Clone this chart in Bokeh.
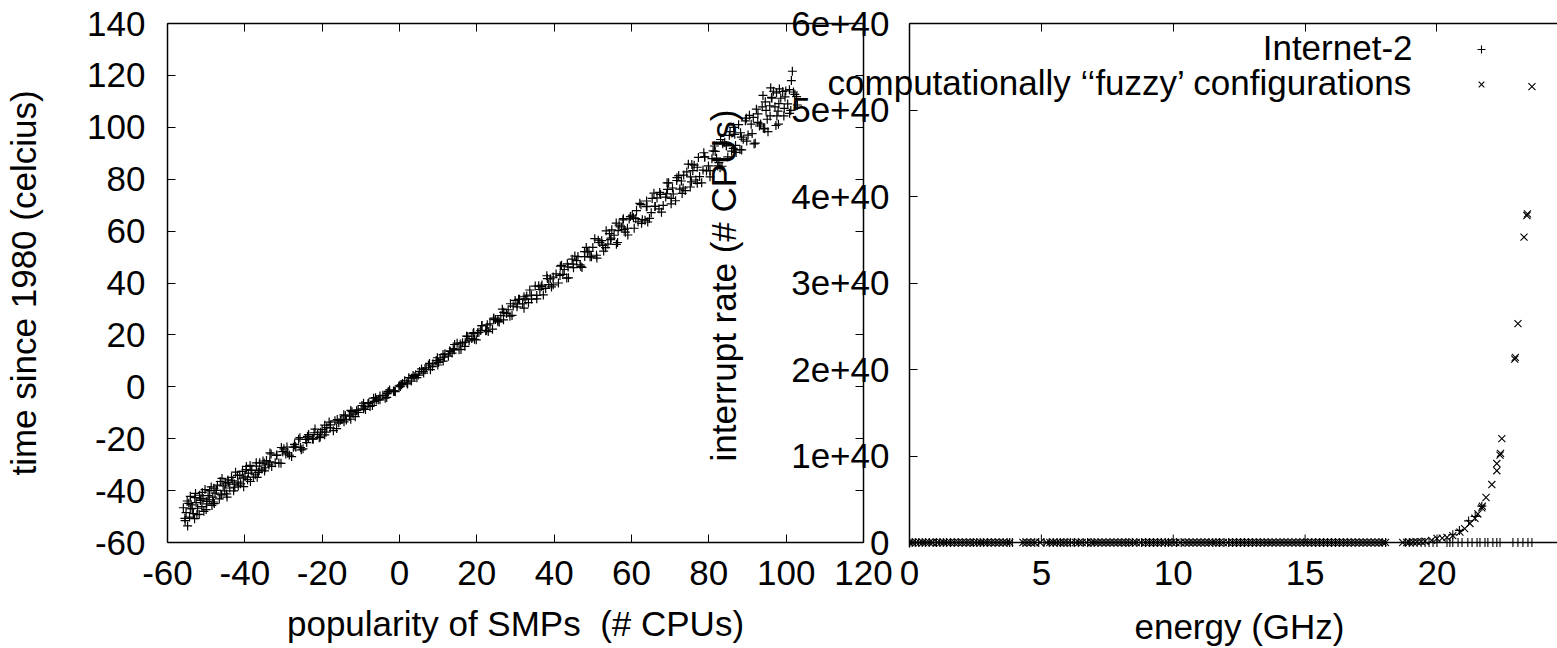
from bokeh.plotting import figure
from bokeh.models import (Range1d, LinearAxis, FixedTicker, Legend,
                          LegendItem, Label, Span)
from bokeh.core.properties import value
from bokeh.embed import file_html
from bokeh.resources import INLINE

FONT = "Liberation Sans"
FS = "35px"

# ---------------- left panel data ----------------
smp_x = [-55.9, -55.45, -54.1, -53.6, -52.95, -51.8, -51.5, -50.3, -49.85, -48.5,
         -48.0, -47.35, -46.2, -45.9, -44.7, -44.25, -42.9, -42.4, -41.75, -40.6,
         -40.3, -39.1, -38.65, -37.3, -36.8, -36.15, -35.0, -34.7, -33.5, -33.05,
         -31.7, -31.2, -30.55, -29.4, -29.1, -27.9, -27.45, -26.1, -25.6, -24.95,
         -23.8, -23.5, -22.3, -21.85, -20.5, -20.0, -19.35, -18.2, -17.9, -16.7,
         -16.25, -14.9, -14.4, -13.75, -12.6, -12.3, -11.1, -10.65, -9.3, -8.8,
         -8.15, -7.0, -6.7, -5.5, -5.05, -3.7, -3.2, -2.55, -1.4, -1.1,
         0.1, 0.55, 1.9, 2.4, 3.05, 4.2, 4.5, 5.7, 6.15, 7.5,
         8.0, 8.65, 9.8, 10.1, 11.3, 11.75, 13.1, 13.6, 14.25, 15.4,
         15.7, 16.9, 17.35, 18.7, 19.2, 19.85, 21.0, 21.3, 22.5, 22.95,
         24.3, 24.8, 25.45, 26.6, 26.9, 28.1, 28.55, 29.9, 30.4, 31.05,
         32.2, 32.5, 33.7, 34.15, 35.5, 36.0, 36.65, 37.8, 38.1, 39.3,
         39.75, 41.1, 41.6, 42.25, 43.4, 43.7, 44.9, 45.35, 46.7, 47.2,
         47.85, 49.0, 49.3, 50.5, 50.95, 52.3, 52.8, 53.45, 54.6, 54.9,
         56.1, 56.55, 57.9, 58.4, 59.05, 60.2, 60.5, 61.7, 62.15, 63.5,
         64.0, 64.65, 65.8, 66.1, 67.3, 67.75, 69.1, 69.6, 70.25, 71.4,
         71.7, 72.9, 73.35, 74.7, 75.2, 75.85, 77.0, 77.3, 78.5, 78.95,
         80.3, 80.8, 81.45, 82.6, 82.9, 84.1, 84.55, 85.9, 86.4, 87.05,
         88.2, 88.5, 89.7, 90.15, 91.5, 92.0, 92.65, 93.8, 94.1, 95.3,
         95.75, 97.1, 97.6, 98.25, 99.4, 99.7, 100.9, 101.35, 102.7, 101.6,
         97.5, 96.3, -54.8, -53.0, -50.6,
         -55.5, -54.5, -54.1, -52.75, -52.4, -51.35, -51.0, -49.85, -49.1, -48.1,
         -47.7, -46.35, -46.0, -44.95, -44.6, -43.45, -42.7, -41.7, -41.3, -39.95,
         -39.6, -38.55, -38.2, -37.05, -36.3, -35.3, -34.9, -33.55, -33.2, -32.15,
         -31.8, -30.65, -29.9, -28.9, -28.5, -27.15, -26.8, -25.75, -25.4, -24.25,
         -23.5, -22.5, -22.1, -20.75, -20.4, -19.35, -19.0, -17.85, -17.1, -16.1,
         -15.7, -14.35, -14.0, -12.95, -12.6, -11.45, -10.7, -9.7, -9.3, -7.95,
         -7.6, -6.55, -6.2, -5.05, -4.3, -3.3, -2.9, -1.55, -1.2, -0.15,
         0.2, 1.35, 2.1, 3.1, 3.5, 4.85, 5.2, 6.25, 6.6, 7.75,
         8.5, 9.5, 9.9, 11.25, 11.6, 12.65, 13.0, 14.15, 14.9, 15.9,
         16.3, 17.65, 18.0, 19.05, 19.4, 20.55, 21.3, 22.3, 22.7, 24.05,
         24.4, 25.45, 25.8, 26.95, 27.7, 28.7, 29.1, 30.45, 30.8, 31.85,
         32.2, 33.35, 34.1, 35.1, 35.5, 36.85, 37.2, 38.25, 38.6, 39.75,
         40.5, 41.5, 41.9, 43.25, 43.6, 44.65, 45.0, 46.15, 46.9, 47.9,
         48.3, 49.65, 50.0, 51.05, 51.4, 52.55, 53.3, 54.3, 54.7, 56.05,
         56.4, 57.45, 57.8, 58.95, 59.7, 60.7, 61.1, 62.45, 62.8, 63.85,
         64.2, 65.35, 66.1, 67.1, 67.5, 68.85, 69.2, 70.25, 70.6, 71.75,
         72.5, 73.5, 73.9, 75.25, 75.6, 76.65, 77.0, 78.15, 78.9, 79.9,
         80.3, 81.65, 82.0, 83.05, 83.4, 84.55, 85.3, 86.3, 86.7, 88.05,
         88.4, 89.45, 89.8, 90.95, 91.7, 92.7, 93.1, 94.45, 94.8, 95.85,
         96.2, 97.35, 98.1, 99.1, 99.5, 100.85, 101.2, 102.25,
         -55.2, -54.9, -54.3, -53.9, -53.3, -52.6, -52.2, -51.7, -51.1, -50.8,
         -50.0, -49.5, -49.2, -48.7, -48.3, -47.9, -47.1, -46.6, -45.6, -45.2,
         -44.4, -43.9, -43.1, -42.6, -41.9, -41.1, -40.4, -39.7, -39.3, -38.4,
         -37.8, -37.0, -36.5, -35.6, -34.4, -33.8,
         55.5, 56.8, 58.1, 59.4, 61.3, 62.6, 63.9, 65.1, 66.6, 68.2,
         69.3, 70.8, 72.2, 73.1, 74.3, 75.5, 76.2, 77.6, 78.7, 79.4,
         81.1, 82.3, 83.6, 84.9, 85.5, 86.9, 87.7, 88.9, 90.5, 91.2,
         92.3, 93.4, 94.6, 95.1, 96.7, 97.9, 98.6, 99.9, 100.4, 101.9,
         102.9, 96.0, 94.0, 98.0,
         -30.2, -27.0, -24.0, -21.2, -18.8, -15.3, -12.0, -9.0, -6.0, -3.0,
         0.8, 3.8, 6.9, 10.5, 13.9, 17.0, 20.2, 23.4, 26.2, 29.4,
         32.9, 36.3, 39.0, 42.6, 45.8, 48.6, 51.8, 53.9]
smp_y = [-46.6, -51.6, -42.2, -47.0, -42.7, -49.2, -43.8, -39.6, -45.1, -45.7,
         -39.1, -39.9, -41.4, -35.3, -41.3, -36.8, -40.1, -32.9, -36.7, -32.6,
         -38.5, -33.3, -30.3, -33.9, -34.9, -29.3, -29.4, -31.2, -25.5, -30.7,
         -26.3, -29.4, -23.4, -25.9, -23.2, -26.9, -23.3, -20.2, -23.4, -23.9,
         -19.1, -19.7, -20.2, -16.3, -19.3, -16.5, -18.5, -13.6, -15.8, -13.1,
         -16.1, -12.6, -10.8, -12.8, -12.5, -9.6, -9.2, -9.9, -6.3, -8.7,
         -6.5, -7.2, -4.4, -5.0, -3.5, -4.4, -2.6, -1.2, -1.8, -1.9,
         0.6, 0.8, 1.5, 3.5, 2.2, 4.6, 3.5, 6.9, 5.9, 8.4,
         6.6, 8.9, 11.2, 9.4, 9.9, 12.7, 13.6, 13.0, 16.3, 14.3,
         16.5, 15.6, 19.5, 18.6, 20.9, 18.1, 21.7, 23.6, 21.8, 21.3,
         26.1, 25.9, 25.1, 29.9, 25.8, 29.7, 27.2, 33.3, 30.8, 33.7,
         30.3, 33.9, 37.3, 33.8, 33.9, 38.9, 38.6, 37.9, 42.8, 38.5,
         42.3, 40.0, 46.5, 43.3, 47.4, 42.0, 47.3, 50.4, 47.0, 46.0,
         52.1, 52.2, 50.1, 57.1, 50.7, 56.3, 52.3, 60.1, 56.7, 60.5,
         54.9, 60.2, 64.8, 59.6, 58.5, 66.1, 65.1, 63.6, 70.7, 64.2,
         69.5, 64.9, 74.6, 69.5, 74.9, 67.3, 74.4, 78.6, 72.6, 71.7,
         79.5, 79.3, 76.6, 85.8, 77.0, 83.3, 78.4, 88.4, 83.5, 88.6,
         80.9, 87.9, 92.8, 86.4, 84.4, 94.2, 92.9, 90.8, 100.0, 90.3,
         97.9, 91.3, 103.5, 97.0, 103.8, 93.9, 101.9, 107.9, 99.6, 98.3,
         108.3, 107.9, 104.4, 114.8, 104.4, 111.7, 105.4, 118.0, 111.8, 121.6,
         113.3, 111.2, -53.6, -50.8, -48.0,
         -50.7, -44.9, -47.0, -41.1, -49.3, -43.2, -40.7, -44.2, -40.0, -44.4,
         -41.0, -36.5, -41.7, -37.4, -42.5, -34.9, -37.5, -38.2, -34.0, -34.7,
         -30.7, -36.5, -32.1, -29.3, -32.3, -28.6, -32.4, -28.9, -25.9, -29.3,
         -26.4, -29.5, -23.9, -25.5, -26.3, -22.2, -23.3, -19.6, -24.3, -20.3,
         -18.4, -20.1, -17.7, -19.6, -17.5, -14.8, -17.5, -14.7, -16.9, -12.6,
         -13.9, -13.5, -11.2, -11.3, -9.1, -11.5, -8.9, -7.2, -8.5, -6.1,
         -7.6, -5.6, -4.2, -5.0, -3.3, -4.1, -1.8, -1.6, -1.7, 0.3,
         0.1, 2.3, 1.1, 3.3, 4.4, 4.5, 5.9, 5.3, 6.6, 9.0,
         7.8, 10.1, 8.4, 12.4, 11.4, 11.8, 13.9, 14.2, 16.8, 14.4,
         17.0, 19.4, 17.7, 20.5, 18.3, 21.0, 23.6, 21.6, 23.9, 22.2,
         26.5, 25.6, 25.0, 28.7, 28.2, 32.0, 27.5, 31.9, 33.7, 32.0,
         34.7, 32.4, 35.3, 38.8, 35.2, 39.2, 35.4, 41.7, 39.4, 39.3,
         43.5, 42.9, 46.8, 41.9, 46.2, 49.2, 45.9, 50.2, 46.4, 50.2,
         53.7, 50.1, 53.7, 49.6, 56.5, 54.5, 53.6, 59.0, 57.3, 63.1,
         55.6, 61.6, 64.3, 61.1, 65.6, 61.1, 64.8, 70.2, 64.4, 69.4,
         63.5, 72.6, 69.5, 68.6, 74.1, 73.1, 78.6, 70.5, 76.6, 80.6,
         76.2, 81.6, 75.6, 80.9, 85.7, 79.7, 84.6, 78.6, 88.6, 85.1,
         83.3, 90.7, 88.1, 95.3, 85.0, 92.9, 96.9, 91.9, 97.3, 91.4,
         96.2, 102.5, 94.7, 101.2, 93.6, 105.2, 100.5, 99.4, 106.5, 104.4,
         111.5, 100.7, 109.1, 113.8, 107.3, 114.5, 106.5, 112.7,
         -48.5, -44.0, -50.2, -45.5, -48.9, -44.6, -46.8, -41.8, -46.2, -43.0,
         -47.3, -41.9, -43.6, -38.6, -42.5, -45.0, -37.9, -43.2, -38.2, -40.1,
         -35.9, -39.0, -36.2, -38.7, -34.1, -37.4, -35.2, -31.9, -35.8, -32.2,
         -34.8, -30.6, -33.0, -31.7, -28.4, -30.1,
         58.4, 62.3, 60.7, 64.7, 67.9, 63.0, 71.6, 67.1, 72.8, 69.9,
         76.1, 74.3, 81.4, 74.5, 82.8, 79.0, 85.4, 81.0, 90.2, 83.2,
         90.9, 85.1, 93.7, 88.6, 98.3, 93.0, 101.0, 95.4, 104.6, 97.6,
         107.0, 101.3, 109.8, 103.1, 113.9, 106.2, 111.2, 114.0, 109.0, 113.6,
         108.6, 115.2, 112.3, 101.2,
         -25.0, -22.9, -21.5, -18.4, -15.7, -12.9, -10.5, -7.7, -5.1, -2.3,
         1.3, 3.9, 7.3, 10.6, 14.7, 17.2, 20.8, 24.3, 27.4, 31.1,
         35.0, 37.5, 41.6, 45.2, 48.6, 52.0, 55.6, 55.0]

x1_ticks = [-60, -40, -20, 0, 20, 40, 60, 80, 100, 120]
x1_tick_labels = ["-60", "-40", "-20", "0", "20", "40", "60", "80", "100", "120"]
y1_ticks = [-60, -40, -20, 0, 20, 40, 60, 80, 100, 120, 140]
y1_tick_labels = ["-60", "-40", "-20", "0", "20", "40", "60", "80", "100", "120", "140"]

# ---------------- right panel data ----------------
inet_x = [0.1, 0.35, 0.6, 0.9, 1.15, 1.4, 1.7, 2.0, 2.3, 2.55, 2.8, 3.1, 3.4, 3.7, 3.9,
          4.3, 4.6, 4.9, 5.3, 5.6, 5.85, 6.1, 6.4, 6.75, 7.0, 7.3, 7.6, 7.9, 8.2, 8.45,
          8.8, 9.1, 9.4, 9.7, 9.95, 10.3, 10.6, 10.9, 11.2, 11.5, 11.75, 12.1, 12.4, 12.7,
          13.0, 13.3, 13.6, 13.9, 14.2, 14.5, 14.8, 15.1, 15.4, 15.7, 16.0, 16.3, 16.6, 16.9, 17.2, 17.5, 17.8, 18.05,
          18.8, 19.1, 19.4, 19.7, 20.0,
          20.38, 20.49, 20.6, 20.8, 20.95, 21.17, 21.33, 21.52, 21.63, 21.82, 21.93, 22.12, 22.27, 22.39, 22.88, 23.07, 23.26, 23.45, 23.6,
          20.6, 20.85, 21.2, 21.45, 21.7,
          0.22, 0.48, 0.75, 1.02, 1.28, 1.55, 1.85, 2.15, 2.42, 2.68, 2.95, 3.25, 3.55, 3.8,
          4.45, 4.75, 5.1, 5.45, 5.72, 5.98, 6.25, 6.58, 6.88, 7.15, 7.45, 7.75, 8.05, 8.32, 8.62,
          8.95, 9.25, 9.55, 9.82, 10.12, 10.45, 10.75, 11.05, 11.35, 11.62, 11.92, 12.25, 12.55, 12.85,
          13.15, 13.45, 13.75, 14.05, 14.35, 14.65, 14.95, 15.25, 15.55, 15.85, 16.15, 16.45, 16.75, 17.05, 17.35, 17.65, 17.92,
          18.95, 19.25, 19.55, 19.85]
inet_y = [0.0, 0.0, 0.0, 0.0, 0.0, 0.0, 0.0, 0.0, 0.0, 0.0, 0.0, 0.0, 0.0, 0.0, 0.0,
          0.0, 0.0, 0.0, 0.0, 0.0, 0.0, 0.0, 0.0, 0.0, 0.0, 0.0, 0.0, 0.0, 0.0, 0.0,
          0.0, 0.0, 0.0, 0.0, 0.0, 0.0, 0.0, 0.0, 0.0, 0.0, 0.0, 0.0, 0.0, 0.0,
          0.0, 0.0, 0.0, 0.0, 0.0, 0.0, 0.0, 0.0, 0.0, 0.0, 0.0, 0.0, 0.0, 0.0, 0.0, 0.0, 0.0, 0.0,
          0.0, 0.0, 0.0, 0.0, 0.0,
          0.0, 0.0, 0.0, 0.0, 0.0, 0.0, 0.0, 0.0, 0.0, 0.0, 0.0, 0.0, 0.0, 0.0, 0.0, 0.0, 0.0, 0.0, 0.0,
          0.09e40, 0.14e40, 0.25e40, 0.30e40, 0.42e40,
          0.0, 0.0, 0.0, 0.0, 0.0, 0.0, 0.0, 0.0, 0.0, 0.0, 0.0, 0.0, 0.0, 0.0,
          0.0, 0.0, 0.0, 0.0, 0.0, 0.0, 0.0, 0.0, 0.0, 0.0, 0.0, 0.0, 0.0, 0.0, 0.0,
          0.0, 0.0, 0.0, 0.0, 0.0, 0.0, 0.0, 0.0, 0.0, 0.0, 0.0, 0.0, 0.0, 0.0,
          0.0, 0.0, 0.0, 0.0, 0.0, 0.0, 0.0, 0.0, 0.0, 0.0, 0.0, 0.0, 0.0, 0.0, 0.0, 0.0, 0.0,
          0.0, 0.0, 0.0, 0.0]

fuzzy_x = [0.0, 0.25, 0.5, 0.75, 1.05, 1.3, 1.55, 1.85, 2.15, 2.45, 2.7, 2.95, 3.25, 3.55, 3.8,
           4.45, 4.75, 5.2, 5.45, 5.7, 6.0, 6.3, 6.55, 6.9, 7.15, 7.45, 7.75, 8.05, 8.35, 8.6,
           8.95, 9.25, 9.55, 9.8, 10.1, 10.45, 10.75, 11.05, 11.35, 11.6, 11.9, 12.25, 12.55, 12.85,
           13.15, 13.45, 13.75, 14.05, 14.35, 14.65, 14.95, 15.25, 15.55, 15.85, 16.15, 16.45, 16.75, 17.05, 17.35, 17.65, 17.95,
           18.7, 18.95, 19.25, 19.55, 19.8,
           20.0, 20.2, 20.38, 20.6, 20.87, 21.05, 21.25, 21.44, 21.55, 21.7, 21.72, 21.86, 22.08,
           22.27, 22.27, 22.39, 22.41, 22.46, 22.95, 22.97, 23.07, 23.3, 23.41, 23.43, 23.6,
           0.12, 0.38, 0.62, 0.88, 1.18, 1.42, 1.7, 2.0, 2.3, 2.58, 2.82, 3.1, 3.4, 3.68,
           4.3, 4.6, 4.95, 5.32, 5.58, 5.85, 6.15, 6.42, 6.72, 7.02, 7.3, 7.6, 7.9, 8.2, 8.48,
           8.78, 9.1, 9.4, 9.68, 9.95, 10.28, 10.6, 10.9, 11.2, 11.48, 11.75, 12.08, 12.4, 12.7,
           13.0, 13.3, 13.6, 13.9, 14.2, 14.5, 14.8, 15.1, 15.4, 15.7, 16.0, 16.3, 16.6, 16.9, 17.2, 17.5, 17.8,
           18.05, 18.85, 19.1, 19.4]
fuzzy_y = [0.0, 0.0, 0.0, 0.0, 0.0, 0.0, 0.0, 0.0, 0.0, 0.0, 0.0, 0.0, 0.0, 0.0, 0.0,
           0.0, 0.0, 0.0, 0.0, 0.0, 0.0, 0.0, 0.0, 0.0, 0.0, 0.0, 0.0, 0.0, 0.0, 0.0,
           0.0, 0.0, 0.0, 0.0, 0.0, 0.0, 0.0, 0.0, 0.0, 0.0, 0.0, 0.0, 0.0, 0.0,
           0.0, 0.0, 0.0, 0.0, 0.0, 0.0, 0.0, 0.0, 0.0, 0.0, 0.0, 0.0, 0.0, 0.0, 0.0, 0.0, 0.0,
           0.0, 0.003e40, 0.008e40, 0.015e40, 0.025e40,
           0.046e40, 0.05e40, 0.06e40, 0.08e40, 0.12e40, 0.16e40, 0.22e40, 0.28e40, 0.33e40, 0.40e40, 0.42e40, 0.52e40, 0.67e40,
           0.83e40, 0.913e40, 1.01e40, 1.03e40, 1.20e40, 2.12e40, 2.14e40, 2.53e40, 3.53e40, 3.78e40, 3.80e40, 5.27e40,
           0.0, 0.0, 0.0, 0.0, 0.0, 0.0, 0.0, 0.0, 0.0, 0.0, 0.0, 0.0, 0.0, 0.0,
           0.0, 0.0, 0.0, 0.0, 0.0, 0.0, 0.0, 0.0, 0.0, 0.0, 0.0, 0.0, 0.0, 0.0, 0.0,
           0.0, 0.0, 0.0, 0.0, 0.0, 0.0, 0.0, 0.0, 0.0, 0.0, 0.0, 0.0, 0.0, 0.0,
           0.0, 0.0, 0.0, 0.0, 0.0, 0.0, 0.0, 0.0, 0.0, 0.0, 0.0, 0.0, 0.0, 0.0, 0.0, 0.0, 0.0,
           0.0, 0.0, 0.004e40, 0.01e40]

x2_ticks = [0, 5, 10, 15, 20, 25]
x2_tick_labels = ["0", "5", "10", "15", "20", "25"]
y2_ticks = [0.0, 1e40, 2e40, 3e40, 4e40, 5e40, 6e40]
y2_tick_labels = ["0", "1e+40", "2e+40", "3e+40", "4e+40", "5e+40", "6e+40"]

series_names = ["Internet-2", "computationally \u2018\u2018fuzzy\u2019 configurations"]
x1_title = "popularity of SMPs\u00a0 (# CPUs)"
y1_title = "time since 1980 (celcius)"
x2_title = "energy (GHz)"
y2_title = "interrupt rate (# CPUs)"


def setup_axis(ax, ticks, labels=None, tick_in=8):
    ax.ticker = FixedTicker(ticks=ticks, minor_ticks=[])
    ax.major_tick_in = tick_in
    ax.major_tick_out = 0
    ax.minor_tick_in = 0
    ax.minor_tick_out = 0
    ax.axis_line_color = "black"
    ax.axis_line_width = 1.5
    ax.major_tick_line_color = "black"
    ax.major_tick_line_width = 1
    ax.major_label_text_font = FONT
    ax.major_label_text_color = "black"
    if labels is None:
        ax.major_label_text_font_size = "0px"
        ax.major_label_standoff = 0
        ax.major_label_overrides = {t: "" for t in ticks}
    else:
        ax.major_label_text_font_size = FS
        ax.major_label_overrides = dict(zip(ticks, labels))
    ax.axis_label_text_font = FONT
    ax.axis_label_text_font_size = FS
    ax.axis_label_text_font_style = "normal"
    ax.axis_label_text_color = "black"


def overlay_styles(fig):
    fig.styles = {"position": "absolute", "top": "0px", "left": "0px"}


# ---------------- left figure ----------------
p1 = figure(width=1557, height=648, x_range=Range1d(-60, 120), y_range=Range1d(-60, 140),
            x_axis_location=None, y_axis_location=None, toolbar_location=None,
            output_backend="svg", min_border_left=167, min_border_right=694,
            min_border_top=23, min_border_bottom=106, outline_line_color=None)
p1.grid.visible = False

ax = LinearAxis(axis_label=y1_title)
setup_axis(ax, y1_ticks, y1_tick_labels)
ax.major_label_standoff = 22
ax.axis_label_standoff = 41
p1.add_layout(ax, "left")

ax = LinearAxis()
setup_axis(ax, x1_ticks, x1_tick_labels)
ax.major_label_standoff = 18
p1.add_layout(ax, "below")

ax = LinearAxis()
setup_axis(ax, x1_ticks)
p1.add_layout(ax, "above")
ax = LinearAxis()
setup_axis(ax, y1_ticks)
p1.add_layout(ax, "right")

p1.scatter(x=smp_x, y=smp_y, marker="cross", size=9, line_color="black", line_width=1.2)

# ---------------- right figure (overlaid on the left one) ----------------
p2 = figure(width=1557, height=648, x_range=Range1d(0, 24.57), y_range=Range1d(-5.78e38, 6e40),
            x_axis_location=None, y_axis_location=None, toolbar_location=None,
            output_backend="svg", min_border_left=909, min_border_right=0,
            min_border_top=23, min_border_bottom=101, outline_line_color=None,
            background_fill_color=None, border_fill_color=None)
p2.grid.visible = False
overlay_styles(p2)

ax = LinearAxis(axis_label=y2_title)
setup_axis(ax, y2_ticks, y2_tick_labels)
ax.major_label_standoff = 20
ax.axis_label_standoff = 45
p2.add_layout(ax, "left")

ax = LinearAxis()
setup_axis(ax, x2_ticks, x2_tick_labels)
ax.axis_line_color = None
ax.major_tick_line_color = None
ax.major_label_standoff = 13
p2.add_layout(ax, "below")

ax = LinearAxis()
setup_axis(ax, x2_ticks)
p2.add_layout(ax, "above")

p2.add_layout(Span(location=0, dimension="width", line_color="black", line_width=1.5))
tick_len = 8 * 6e40 / 519
p2.segment(x0=x2_ticks, x1=x2_ticks, y0=[0.0] * len(x2_ticks), y1=[tick_len] * len(x2_ticks),
           line_color="black", line_width=1)

r_inet = p2.scatter(x=inet_x, y=inet_y, marker="cross", size=9, line_color="black", line_width=1.1)
r_fuzzy = p2.scatter(x=fuzzy_x, y=fuzzy_y, marker="x", size=10, line_color="black", line_width=1.1)

legend = Legend(items=[LegendItem(label=value(""), renderers=[r_inet]),
                       LegendItem(label=value(""), renderers=[r_fuzzy])],
                location=(561, 453), orientation="vertical", padding=0, margin=0, spacing=15,
                glyph_width=22, glyph_height=20, label_width=0, label_height=20,
                label_standoff=0, label_text_font_size="1px", border_line_color=None,
                background_fill_alpha=0)
p2.add_layout(legend)

# ---------------- full-canvas overlay for free texts ----------------
p3 = figure(width=1557, height=648, x_range=Range1d(0, 1), y_range=Range1d(0, 1),
            x_axis_location=None, y_axis_location=None, toolbar_location=None,
            output_backend="svg", min_border_left=0, min_border_right=0,
            min_border_top=0, min_border_bottom=0, outline_line_color=None,
            background_fill_color=None, border_fill_color=None)
p3.grid.visible = False
overlay_styles(p3)


def add_text(fig, x, y, text, align):
    fig.add_layout(Label(x=x, y=y, x_units="screen", y_units="screen", text=text,
                         text_align=align, text_baseline="alphabetic", text_font=FONT,
                         text_font_size=FS, text_color="black"))


add_text(p3, 1412, 601, series_names[0], "right")
add_text(p3, 1412, 566, series_names[1], "right")
add_text(p3, 515, 25, x1_title, "center")
add_text(p3, 1239, 22, x2_title, "center")

open("out.html", "w").write(file_html([p1, p2, p3], INLINE))
